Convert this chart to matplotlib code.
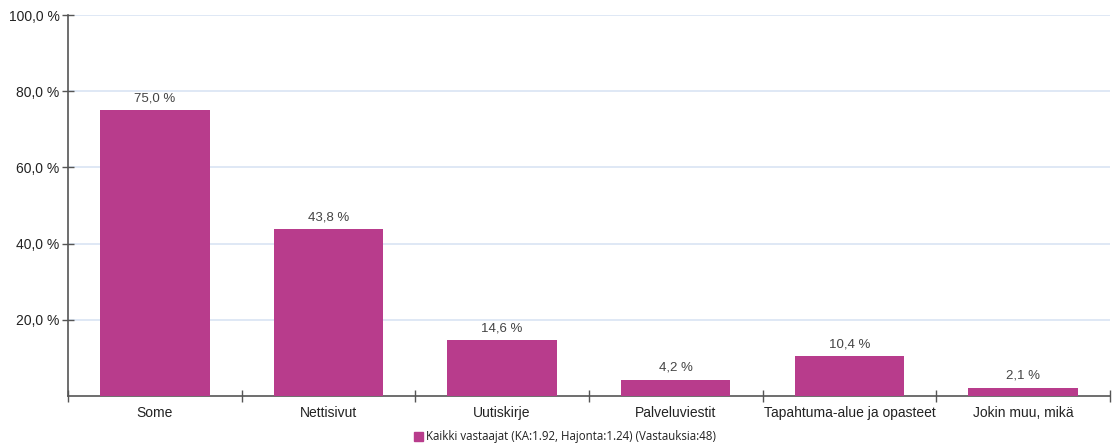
import numpy as np
import matplotlib.pyplot as plt
from matplotlib.patches import Patch

plt.rcParams['font.family'] = ['Liberation Sans', 'DejaVu Sans']

# Vastausten jakauma
kategoriat = ['Some', 'Nettisivut', 'Uutiskirje', 'Palveluviestit',
              'Tapahtuma-alue ja opasteet', 'Jokin muu, mikä']
osuudet = [75.0, 43.8, 14.6, 4.2, 10.4, 2.1]
sarja = 'Kaikki vastaajat (KA:1.92, Hajonta:1.24) (Vastauksia:48)'

vari = '#b83c8c'

fig = plt.figure(figsize=(11.19, 4.48), dpi=100)
ax = fig.add_axes([0.0608, 0.116, 0.931, 0.8505])

x = np.arange(len(kategoriat))
ax.bar(x, osuudet, width=0.63, color=vari, zorder=3)

for xi, v in zip(x, osuudet):
    ax.text(xi, v + 1.6, f'{v:.1f} %'.replace('.', ','), ha='center', va='bottom',
            fontsize=9.5, color='#444444')

ax.set_xlim(-0.5, len(kategoriat) - 0.5)
ax.set_ylim(0, 100)

# y-akseli
ax.set_yticks([20, 40, 60, 80, 100])
ax.set_yticklabels([f'{t:.1f} %'.replace('.', ',') for t in [20, 40, 60, 80, 100]])
ax.grid(axis='y', color='#dce6f4', linewidth=1.3, zorder=0)
ax.tick_params(axis='y', direction='inout', length=8, width=1, color='#555555',
               labelsize=10, labelcolor='#222222', pad=2)

# x-akseli: nimet keskelle, väliviivat luokkien rajoille
ax.set_xticks(x)
ax.set_xticklabels(kategoriat)
ax.tick_params(axis='x', which='major', length=0, labelsize=10, labelcolor='#222222', pad=7)
ax.set_xticks(np.arange(-0.5, len(kategoriat)), minor=True)
ax.tick_params(axis='x', which='minor', direction='inout', length=8, width=1, color='#555555')

for s in ['top', 'right']:
    ax.spines[s].set_visible(False)
for s in ['left', 'bottom']:
    ax.spines[s].set_color('#555555')
    ax.spines[s].set_linewidth(1.2)

fig.legend(handles=[Patch(color=vari, label=sarja)], loc='center',
           bbox_to_anchor=(0.505, 0.025), frameon=False,
           prop={'family': ['Open Sans', 'DejaVu Sans'], 'size': 8.3},
           handlelength=0.75, handleheight=0.75, handletextpad=0.3,
           labelcolor='#222222')

fig.savefig('out.png', dpi=100)
